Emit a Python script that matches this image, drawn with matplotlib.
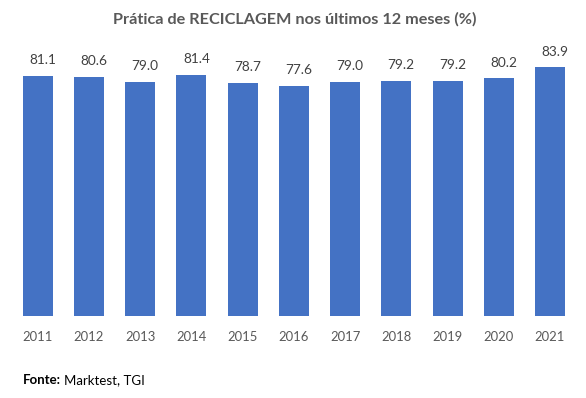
import matplotlib
matplotlib.use("Agg")
import matplotlib.pyplot as plt

years = ["2011", "2012", "2013", "2014", "2015", "2016", "2017", "2018", "2019", "2020", "2021"]
values = [81.1, 80.6, 79.0, 81.4, 78.7, 77.6, 79.0, 79.2, 79.2, 80.2, 83.9]

plt.rcParams['font.family'] = ['Lato', 'DejaVu Sans']

fig = plt.figure(figsize=(5.86, 3.98), dpi=100)
ax = fig.add_axes([0.02065, 0.2060, 0.9616, 0.6683])

x = list(range(len(years)))
bars = ax.bar(x, values, width=0.586, color="#4472C4")
ax.set_xlim(-0.5, len(years) - 0.5)
ax.set_ylim(0, 89.7)

for xi, v in zip(x, values):
    ax.annotate(f"{v:.1f}", xy=(xi, v), xytext=(3.6, 11.3), textcoords="offset points",
                ha="center", va="center", fontsize=9.8, color="#404040", annotation_clip=False)

ax.set_xticks(x)
ax.set_xticklabels(years, fontsize=9.4, color="#595959")
ax.tick_params(axis="x", length=0, pad=10.5)
ax.set_yticks([])
for s in ax.spines.values():
    s.set_visible(False)

fig.text(294.5 / 586, 1 - 19 / 398, "Prática de RECICLAGEM nos últimos 12 meses (%)", ha="center", va="center",
         fontsize=11.7, fontweight="bold", color="#595959")

t = fig.text(23 / 586, 1 - 380 / 398, "Fonte:", ha="left", va="center", fontsize=9.5,
             fontweight="bold", color="black")
ax.annotate("Marktest, TGI", xy=(1, 0.5), xycoords=t, xytext=(2.5, 0), textcoords="offset points",
            ha="left", va="center", fontsize=9.5, color="black", annotation_clip=False)

fig.savefig("out.png", dpi=100)
